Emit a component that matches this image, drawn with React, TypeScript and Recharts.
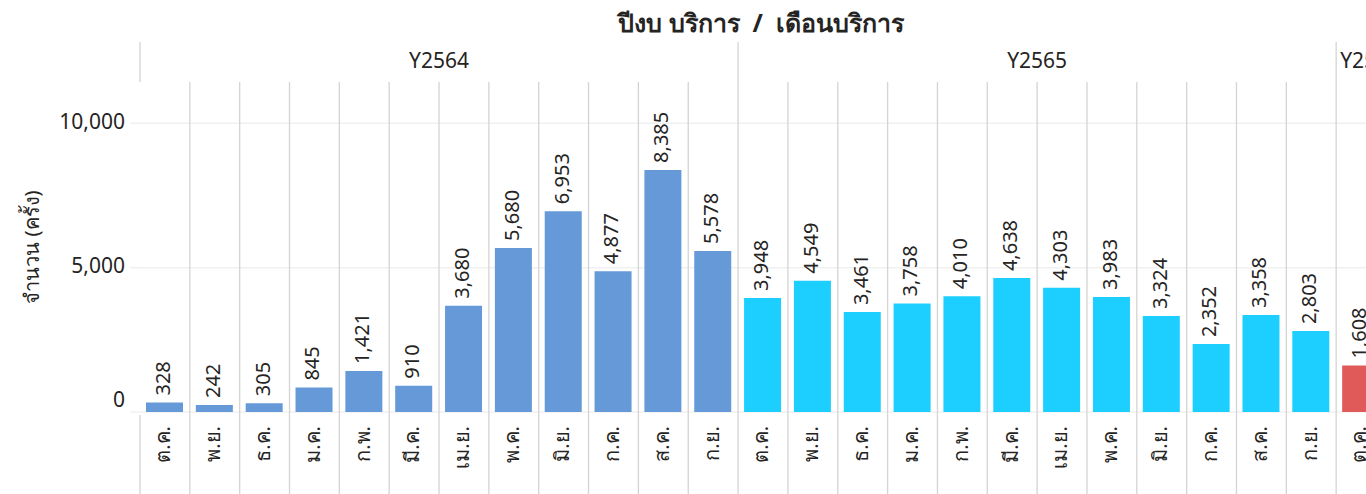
import { BarChart, Bar, XAxis, YAxis, Cell, LabelList, CartesianGrid } from "recharts";

const months = ["ต.ค.", "พ.ย.", "ธ.ค.", "ม.ค.", "ก.พ.", "มี.ค.", "เม.ย.", "พ.ค.", "มิ.ย.", "ก.ค.", "ส.ค.", "ก.ย."];
const years = ["Y2564", "Y2565", "Y2566"];
const visits2564 = [328, 242, 305, 845, 1421, 910, 3680, 5680, 6953, 4877, 8385, 5578];
const visits2565 = [3948, 4549, 3461, 3758, 4010, 4638, 4303, 3983, 3324, 2352, 3358, 2803];
const visits2566 = [1608];
const yTicks = [0, 5000, 10000];

const yearColors: Record<string, string> = {
  Y2564: "#6699d8",
  Y2565: "#1ccfff",
  Y2566: "#e05a5a",
};

const seriesByYear = [visits2564, visits2565, visits2566];
const data = years.flatMap((year, yi) =>
  seriesByYear[yi].map((value, mi) => ({
    key: `${year}-${months[mi]}`,
    year,
    month: months[mi],
    value,
  }))
);

// layout
const VIEW_W = 1366;
const CHART_W = 1400;
const CHART_H = 494;
const HEAD_TOP = 42;
const PLOT_TOP = 82;
const PLOT_BOTTOM = 412;
const Y_AXIS_W = 140;
const RIGHT = 14;
const BW = (CHART_W - Y_AXIS_W - RIGHT) / data.length;
const FONT = "'Segoe UI', 'Noto Sans', 'DejaVu Sans', sans-serif";
const LINE = "#d4d4d4";
const GRID = "#f0f0f0";
const TEXT = "#252423";

const fmt = (v: number) => v.toLocaleString("en-US");

function MonthTick(props: any) {
  const { x, index, payload } = props;
  const row = data[index];
  const left = x - BW / 2;
  const ty = PLOT_BOTTOM + 14;
  return (
    <g>
      <line x1={left} x2={left} y1={index === 0 ? PLOT_BOTTOM + 3 : PLOT_TOP} y2={CHART_H} stroke={LINE} strokeWidth={1.3} />
      <text
        x={x}
        y={ty}
        transform={`rotate(-90, ${x}, ${ty})`}
        textAnchor="end"
        dominantBaseline="middle"
        fontSize={20}
        fontFamily={FONT}
        fill={TEXT}
      >
        {row ? row.month : payload.value}
      </text>
    </g>
  );
}

function YearTick(props: any) {
  const { x, index, payload } = props;
  const first = index === 0 || data[index - 1].year !== data[index].year;
  if (!first) return null;
  const left = x - BW / 2;
  const groupEnd = left + months.length * BW;
  const center = left + (months.length * BW) / 2;
  const clipped = groupEnd > VIEW_W;
  return (
    <g>
      <line x1={left} x2={left} y1={HEAD_TOP} y2={PLOT_TOP} stroke={LINE} strokeWidth={1.3} />
      <text
        x={clipped ? left + 4 : center}
        y={62}
        textAnchor={clipped ? "start" : "middle"}
        dominantBaseline="middle"
        fontSize={21}
        fontFamily={FONT}
        fill={TEXT}
      >
        {payload.value}
      </text>
    </g>
  );
}

function ValueTick(props: any) {
  const { y, payload } = props;
  const ty = payload.value === 0 ? y - 11 : y;
  return (
    <g>
      <line x1={130} x2={Y_AXIS_W} y1={y} y2={y} stroke={GRID} strokeWidth={1.5} />
      <text x={125} y={ty} textAnchor="end" dominantBaseline="middle" fontSize={21} fontFamily={FONT} fill={TEXT}>
        {fmt(payload.value)}
      </text>
    </g>
  );
}

function BarValue(props: any) {
  const { x, y, width, value } = props;
  const cx = x + width / 2;
  const ty = y - 7;
  return (
    <text
      x={cx}
      y={ty}
      transform={`rotate(-90, ${cx}, ${ty})`}
      textAnchor="start"
      dominantBaseline="middle"
      fontSize={20}
      fontFamily={FONT}
      fill={TEXT}
    >
      {fmt(value)}
    </text>
  );
}

function YTitle(props: any) {
  const vb = props.viewBox || {};
  const cx = 34;
  const cy = (vb.y ?? PLOT_TOP) + (vb.height ?? PLOT_BOTTOM - PLOT_TOP) / 2;
  return (
    <text
      x={cx}
      y={cy}
      transform={`rotate(-90, ${cx}, ${cy})`}
      textAnchor="middle"
      dominantBaseline="middle"
      fontSize={20}
      fontFamily={FONT}
      fill={TEXT}
    >
      จำนวน (ครั้ง)
    </text>
  );
}

export default function App() {
  return (
    <div
      style={{
        position: "absolute",
        left: 0,
        top: 0,
        width: VIEW_W,
        height: CHART_H,
        overflow: "hidden",
        background: "#ffffff",
      }}
    >
      <div
        style={{
          position: "absolute",
          left: 761,
          top: 4,
          transform: "translateX(-50%)",
          whiteSpace: "pre",
          fontFamily: FONT,
          fontWeight: "bold",
          fontSize: 25,
          lineHeight: "36px",
          color: "#252423",
        }}
      >
        {"ปีงบ บริการ  /  เดือนบริการ"}
      </div>
      <BarChart
        width={CHART_W}
        height={CHART_H}
        data={data}
        margin={{ top: HEAD_TOP, right: RIGHT, bottom: 0, left: 0 }}
      >
        <CartesianGrid vertical={false} horizontalValues={yTicks} stroke={GRID} strokeWidth={1.5} />
        <XAxis
          xAxisId="year"
          orientation="top"
          dataKey="year"
          height={PLOT_TOP - HEAD_TOP}
          axisLine={false}
          tickLine={false}
          interval={0}
          tick={<YearTick />}
        />
        <XAxis
          dataKey="key"
          height={CHART_H - PLOT_BOTTOM}
          axisLine={false}
          tickLine={false}
          interval={0}
          tick={<MonthTick />}
        />
        <YAxis
          width={Y_AXIS_W}
          domain={[0, 11430]}
          ticks={yTicks}
          axisLine={false}
          tickLine={false}
          tick={<ValueTick />}
          label={<YTitle />}
        />
        <Bar dataKey="value" barSize={37} isAnimationActive={false}>
          {data.map((d) => (
            <Cell key={d.key} fill={yearColors[d.year]} />
          ))}
          <LabelList dataKey="value" content={<BarValue />} />
        </Bar>
      </BarChart>
    </div>
  );
}
